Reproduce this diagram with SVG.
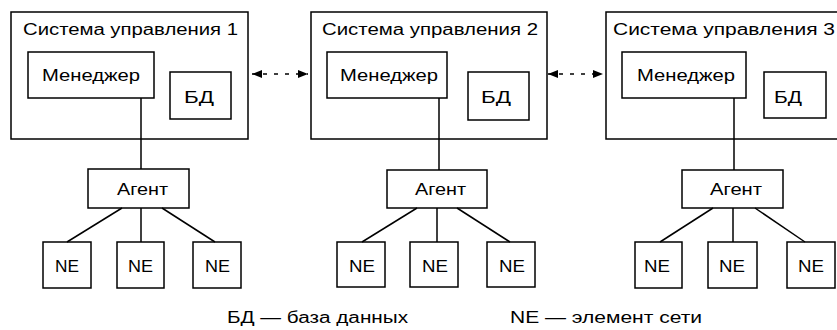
<svg xmlns="http://www.w3.org/2000/svg" width="837" height="330" viewBox="0 0 837 330">
<style>
  .box { fill: none; stroke: #000; stroke-width: 1.5; }
  .ln { fill: none; stroke: #000; stroke-width: 1.5; }
  .dash { fill: none; stroke: #000; stroke-width: 1.3; stroke-dasharray: 4 7; }
  text { font-family: "Liberation Sans", Arial, sans-serif; font-size: 16px; fill: #000; }
  .mid { text-anchor: middle; }
</style>
<defs>
  <marker id="ah" viewBox="0 0 10 8" refX="10" refY="4" markerWidth="10" markerHeight="8" markerUnits="userSpaceOnUse" orient="auto-start-reverse">
    <path d="M0,0 L10,4 L0,8 Z" fill="#000"/>
  </marker>
</defs>
<rect width="837" height="330" fill="#fff"/>

<g id="connectors">
  <line class="ln" x1="141" y1="98" x2="141" y2="169"/>
  <line class="ln" x1="439" y1="98" x2="439" y2="170"/>
  <line class="ln" x1="734" y1="98" x2="734" y2="170"/>
  <line class="ln" x1="122" y1="208" x2="67" y2="242"/>
  <line class="ln" x1="141" y1="208" x2="141" y2="242"/>
  <line class="ln" x1="162" y1="208" x2="215" y2="242"/>
  <line class="ln" x1="417" y1="208" x2="362" y2="242"/>
  <line class="ln" x1="437" y1="208" x2="437" y2="242"/>
  <line class="ln" x1="457" y1="208" x2="510" y2="242"/>
  <line class="ln" x1="713" y1="208" x2="660" y2="242"/>
  <line class="ln" x1="733" y1="208" x2="733" y2="242"/>
  <line class="ln" x1="755" y1="208" x2="805" y2="242"/>
  <line class="dash" x1="252" y1="74" x2="308" y2="74" marker-start="url(#ah)" marker-end="url(#ah)"/>
  <line class="dash" x1="548" y1="74" x2="603" y2="74" marker-start="url(#ah)" marker-end="url(#ah)"/>
</g>

<g id="sys1">
  <rect class="box" x="11" y="12" width="237" height="127"/>
  <text x="23" y="35" textLength="215" lengthAdjust="spacingAndGlyphs">Система управления 1</text>
</g>
<g id="sys1-manager">
  <rect class="box" x="28" y="52" width="126" height="46"/>
  <text x="42" y="81" textLength="98" lengthAdjust="spacingAndGlyphs">Менеджер</text>
</g>
<g id="sys1-db">
  <rect class="box" x="170" y="72" width="61" height="47"/>
  <text x="184" y="103" textLength="30" lengthAdjust="spacingAndGlyphs">БД</text>
</g>
<g id="sys1-agent">
  <rect class="box" x="88" y="169" width="101" height="39"/>
  <text x="117" y="195" textLength="51" lengthAdjust="spacingAndGlyphs">Агент</text>
</g>
<g id="sys1-ne1"><rect class="box" x="43" y="242" width="48" height="46"/><text x="55" y="272" textLength="24" lengthAdjust="spacingAndGlyphs">NE</text></g>
<g id="sys1-ne2"><rect class="box" x="117" y="242" width="47" height="46"/><text x="128" y="272" textLength="25" lengthAdjust="spacingAndGlyphs">NE</text></g>
<g id="sys1-ne3"><rect class="box" x="193" y="242" width="48" height="46"/><text x="205" y="272" textLength="25" lengthAdjust="spacingAndGlyphs">NE</text></g>

<g id="sys2">
  <rect class="box" x="311" y="12" width="236" height="127"/>
  <text x="322" y="35" textLength="216" lengthAdjust="spacingAndGlyphs">Система управления 2</text>
</g>
<g id="sys2-manager">
  <rect class="box" x="327" y="52" width="120" height="46"/>
  <text x="340" y="81" textLength="98" lengthAdjust="spacingAndGlyphs">Менеджер</text>
</g>
<g id="sys2-db">
  <rect class="box" x="468" y="72" width="61" height="48"/>
  <text x="481" y="103" textLength="30" lengthAdjust="spacingAndGlyphs">БД</text>
</g>
<g id="sys2-agent">
  <rect class="box" x="387" y="170" width="100" height="38"/>
  <text x="415" y="195" textLength="51" lengthAdjust="spacingAndGlyphs">Агент</text>
</g>
<g id="sys2-ne1"><rect class="box" x="337" y="242" width="48" height="45"/><text x="349" y="272" textLength="26" lengthAdjust="spacingAndGlyphs">NE</text></g>
<g id="sys2-ne2"><rect class="box" x="410" y="242" width="48" height="45"/><text x="422" y="272" textLength="26" lengthAdjust="spacingAndGlyphs">NE</text></g>
<g id="sys2-ne3"><rect class="box" x="487" y="242" width="48" height="45"/><text x="499" y="272" textLength="26" lengthAdjust="spacingAndGlyphs">NE</text></g>

<g id="sys3">
  <rect class="box" x="606" y="12" width="240" height="127"/>
  <text x="613" y="35" textLength="222" lengthAdjust="spacingAndGlyphs">Система управления 3</text>
</g>
<g id="sys3-manager">
  <rect class="box" x="622" y="52" width="124" height="46"/>
  <text x="637" y="81" textLength="98" lengthAdjust="spacingAndGlyphs">Менеджер</text>
</g>
<g id="sys3-db">
  <rect class="box" x="764" y="72" width="62" height="46"/>
  <text x="774" y="103" textLength="28" lengthAdjust="spacingAndGlyphs">БД</text>
</g>
<g id="sys3-agent">
  <rect class="box" x="682" y="170" width="101" height="38"/>
  <text x="710" y="195" textLength="52" lengthAdjust="spacingAndGlyphs">Агент</text>
</g>
<g id="sys3-ne1"><rect class="box" x="635" y="242" width="47" height="46"/><text x="644" y="272" textLength="26" lengthAdjust="spacingAndGlyphs">NE</text></g>
<g id="sys3-ne2"><rect class="box" x="708" y="242" width="49" height="46"/><text x="719" y="272" textLength="26" lengthAdjust="spacingAndGlyphs">NE</text></g>
<g id="sys3-ne3"><rect class="box" x="787" y="242" width="48" height="46"/><text x="798" y="272" textLength="26" lengthAdjust="spacingAndGlyphs">NE</text></g>

<g id="legend">
  <text x="227" y="323" textLength="181" lengthAdjust="spacingAndGlyphs">БД — база данных</text>
  <text x="510" y="323" textLength="192" lengthAdjust="spacingAndGlyphs">NE — элемент сети</text>
</g>
</svg>
